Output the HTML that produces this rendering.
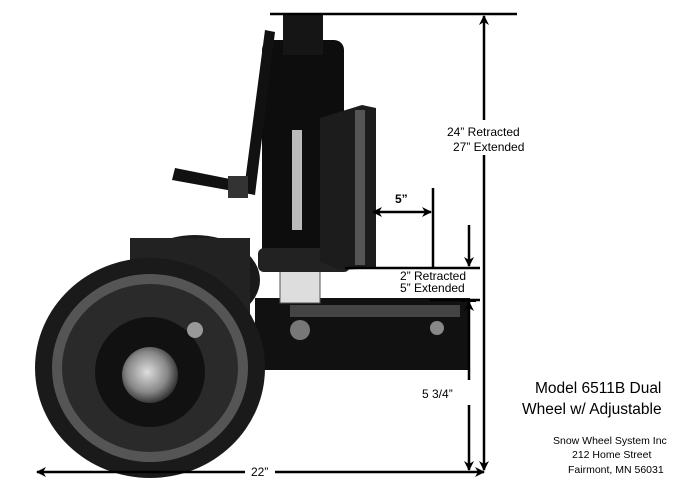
<!DOCTYPE html>
<html><head><meta charset="utf-8"><style>
html,body{margin:0;padding:0;background:#fff;width:700px;height:500px;overflow:hidden}
svg{display:block}
text{font-family:"Liberation Sans",Arial,sans-serif;fill:#000}
</style></head><body>
<svg width="700" height="500" viewBox="0 0 700 500">
<defs>
<marker id="a" markerWidth="10" markerHeight="10" refX="9" refY="5" orient="auto-start-reverse" markerUnits="userSpaceOnUse"><path d="M0,0 L10,5 L0,10 L3,5z" fill="#000"/></marker>
<radialGradient id="hub" cx="0.45" cy="0.45" r="0.6"><stop offset="0" stop-color="#ddd"/><stop offset="0.6" stop-color="#888"/><stop offset="1" stop-color="#222"/></radialGradient>
</defs>
<!-- rear tire -->
<ellipse cx="195" cy="280" rx="65" ry="45" fill="#1a1a1a"/>
<rect x="130" y="238" width="120" height="90" fill="#222"/>
<!-- arm -->
<rect x="255" y="298" width="215" height="72" fill="#111"/>
<rect x="290" y="305" width="170" height="12" fill="#444"/>
<circle cx="300" cy="330" r="10" fill="#777"/>
<circle cx="437" cy="328" r="7" fill="#888"/>
<!-- coupler -->
<rect x="280" y="268" width="40" height="35" fill="#ddd" stroke="#555"/>
<!-- jack body -->
<rect x="262" y="40" width="82" height="230" rx="10" fill="#0d0d0d"/>
<rect x="283" y="15" width="40" height="40" fill="#151515"/>
<rect x="292" y="130" width="10" height="100" fill="#bbb"/>
<rect x="258" y="248" width="92" height="24" rx="6" fill="#222"/>
<!-- plate -->
<path d="M320 118 L362 105 L376 108 L376 268 L340 270 L320 262z" fill="#1c1c1c"/>
<rect x="355" y="110" width="10" height="155" fill="#555"/>
<!-- crank -->
<path d="M175 168 L245 182 L265 30 L275 32 L255 195 L172 180z" fill="#111"/>
<rect x="228" y="176" width="20" height="22" fill="#333"/>
<!-- front tire -->
<ellipse cx="150" cy="368" rx="115" ry="110" fill="#1a1a1a"/>
<ellipse cx="150" cy="368" rx="98" ry="94" fill="#555"/>
<ellipse cx="150" cy="368" rx="88" ry="84" fill="#2a2a2a"/>
<circle cx="150" cy="372" r="55" fill="#111"/>
<circle cx="150" cy="375" r="28" fill="url(#hub)"/>
<circle cx="195" cy="330" r="8" fill="#999"/>
<!-- dimension lines -->
<g stroke="#000" stroke-width="2.5" fill="none">
<line x1="270" y1="14" x2="517" y2="14"/>
<line x1="484" y1="16" x2="484" y2="120" marker-start="url(#a)"/>
<line x1="484" y1="155" x2="484" y2="470" marker-end="url(#a)"/>
<line x1="373" y1="212" x2="431" y2="212" marker-start="url(#a)" marker-end="url(#a)"/>
<line x1="433" y1="188" x2="433" y2="268"/>
<line x1="345" y1="268" x2="480" y2="268"/>
<line x1="469" y1="225" x2="469" y2="266" marker-end="url(#a)"/>
<line x1="430" y1="300" x2="480" y2="300"/>
<line x1="469" y1="302" x2="469" y2="380" marker-start="url(#a)"/>
<line x1="469" y1="405" x2="469" y2="470" marker-end="url(#a)"/>
<line x1="37" y1="472" x2="245" y2="472" marker-start="url(#a)"/>
<line x1="275" y1="472" x2="484" y2="472" marker-end="url(#a)"/>
</g>
<rect x="462" y="300" width="14" height="2" fill="#000"/>
<g font-size="12">
<text x="447" y="136">24” Retracted</text>
<text x="453" y="151">27” Extended</text>
<text x="395" y="203" font-weight="bold">5”</text>
<text x="400" y="280">2” Retracted</text>
<text x="400" y="292">5” Extended</text>
<text x="422" y="398">5 3/4”</text>
<text x="251" y="476">22”</text>
</g>
<g font-size="15.5">
<text x="535" y="393">Model 6511B Dual</text>
<text x="522" y="414">Wheel w/ Adjustable</text>
</g>
<g font-size="10.5">
<text x="553" y="444">Snow Wheel System Inc</text>
<text x="572" y="458">212 Home Street</text>
<text x="568" y="473">Fairmont, MN 56031</text>
</g>
</svg>
</body></html>
